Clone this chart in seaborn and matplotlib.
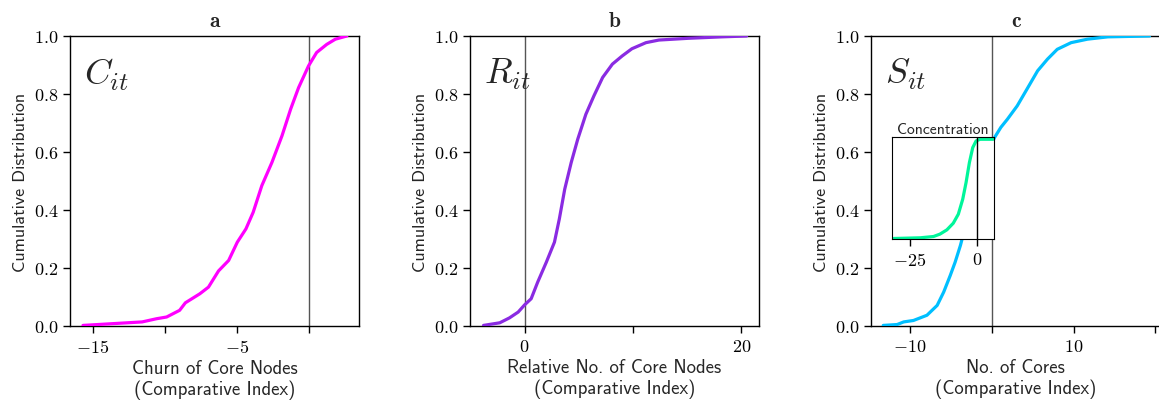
import numpy as np
import pandas as pd
import seaborn as sns
import matplotlib.pyplot as plt
from matplotlib.ticker import FixedLocator

# values (x = comparative index, y = cumulative share)
churn_x = [-15.7, -11.6, -10.6, -9.9, -9.0, -8.6, -7.6, -7.0, -6.3, -5.6, -5.0, -4.4,
           -3.9, -3.3, -2.6, -1.9, -1.3, -0.75, -0.06, 0.5, 1.2, 1.8, 2.6]
churn_y = [0.002, 0.014, 0.025, 0.031, 0.054, 0.080, 0.111, 0.134, 0.19, 0.226, 0.289, 0.335,
           0.392, 0.484, 0.564, 0.656, 0.748, 0.822, 0.897, 0.943, 0.971, 0.989, 1.0]

relnodes_x = [-3.8, -2.3, -1.4, -0.6, 0.0, 0.6, 1.2, 2.0, 2.75, 3.2, 3.7, 4.3, 4.9, 5.65,
              6.4, 7.2, 8.1, 9.0, 9.9, 11.2, 12.4, 15.1, 18.2, 20.5]
relnodes_y = [0.002, 0.011, 0.028, 0.048, 0.073, 0.094, 0.151, 0.220, 0.289, 0.369, 0.472,
              0.564, 0.644, 0.730, 0.794, 0.857, 0.903, 0.931, 0.956, 0.977, 0.986, 0.992,
              0.997, 1.0]

cores_x = [-13.3, -11.6, -10.8, -9.6, -7.95, -6.7, -5.9, -5.1, -4.5, -3.85, -3.0, -2.0,
           -1.0, 0.0, 0.33, 1.1, 1.9, 3.1, 4.3, 5.6, 6.8, 8.0, 9.7, 11.7, 14.2, 19.3]
cores_y = [0.002, 0.005, 0.014, 0.019, 0.037, 0.071, 0.117, 0.174, 0.220, 0.278, 0.37, 0.47,
           0.56, 0.63, 0.650, 0.685, 0.713, 0.759, 0.817, 0.880, 0.920, 0.954, 0.977, 0.989,
           0.997, 1.0]

conc_x = [-31.2, -21.2, -16.2, -13.8, -11.2, -8.8, -6.9, -5.25, -4.0, -2.75, -1.5, -0.25,
          1.25, 6.2]
conc_y = [0.0, 0.007, 0.02, 0.044, 0.087, 0.154, 0.245, 0.396, 0.564, 0.765, 0.916, 0.983,
          1.0, 1.0]

sns.set_style("ticks", {"axes.edgecolor": "black", "xtick.color": "black",
                        "ytick.color": "black"})
plt.rcParams['font.family'] = ['cmr10']
plt.rcParams['axes.formatter.use_mathtext'] = True
plt.rcParams['mathtext.fontset'] = 'cm'

fig = plt.figure(figsize=(11.59, 4.02), dpi=100)

panels = [
    ("a", r"$C_{it}$", churn_x, churn_y, "#ff00ff", (-16.6, 3.45),
     [-15, -5], [-10, 0], "Churn of Core Nodes\n(Comparative Index)", 0.0604),
    ("b", r"$R_{it}$", relnodes_x, relnodes_y, "#8a2be2", (-5.05, 21.65),
     [0, 20], [10], "Relative No. of Core Nodes\n(Comparative Index)", 0.4055),
    ("c", r"$S_{it}$", cores_x, cores_y, "#00bfff", (-14.8, 20.6),
     [-10, 10], [0, 20], "No. of Cores\n(Comparative Index)", 0.7515),
]

for title, sym, xs, ys, col, xlim, major, minor, xlabel, left in panels:
    ax = fig.add_axes([left, 0.1866, 0.2495, 0.7214])
    df = pd.DataFrame({"x": xs, "y": ys})
    sns.lineplot(data=df, x="x", y="y", ax=ax, color=col, lw=2.3, zorder=3)
    ax.axvline(0, color="#555555", lw=1, zorder=2)
    ax.set_xlim(*xlim)
    ax.set_ylim(0, 1)
    ax.set_yticks([0, 0.2, 0.4, 0.6, 0.8, 1.0])
    ax.xaxis.set_major_locator(FixedLocator(major))
    ax.xaxis.set_minor_locator(FixedLocator(minor))
    ax.tick_params(which="both", length=5, width=1, labelsize=13)
    ax.set_xlabel(xlabel, fontfamily="cmss10", fontsize=13.5, labelpad=3)
    ax.set_ylabel("Cumulative Distribution", fontfamily="cmss10", fontsize=13)
    ax.set_title(title, fontfamily="cmb10", fontsize=15.5, pad=7)
    ax.text(0.05, 0.93, sym, transform=ax.transAxes, fontsize=26, va="top", ha="left")
    for s in ax.spines.values():
        s.set_linewidth(1)

# inset for panel c
ins = fig.add_axes([0.770, 0.403, 0.0877, 0.253], zorder=5)
ins.set_facecolor("white")
sns.lineplot(x=conc_x, y=conc_y, ax=ins, color="#00f59a", lw=2.3)
ins.axvline(0, color="black", lw=1)
ins.set_xlim(-31.6, 6.5)
ins.set_ylim(-0.005, 1.02)
ins.set_xticks([-25, 0])
ins.set_yticks([])
ins.tick_params(length=5, width=1, labelsize=13)
ins.set_xlabel("")
ins.set_ylabel("")
ins.set_title("Concentration", fontfamily="cmss10", fontsize=11.3, pad=3)

fig.savefig("out.png", dpi=100)
